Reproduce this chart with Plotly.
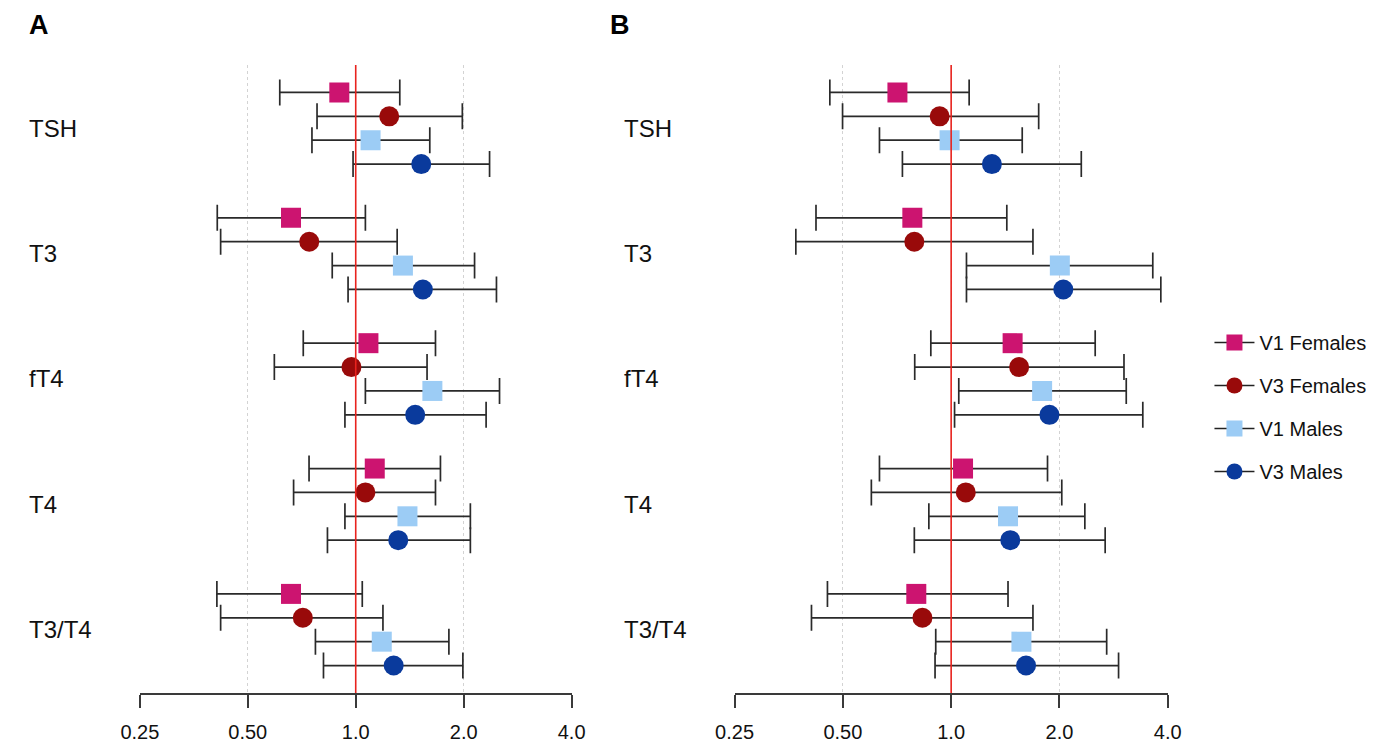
import math
import plotly.graph_objects as go

categories = ["TSH", "T3", "fT4", "T4", "T3/T4"]
series_names = ["V1 Females", "V3 Females", "V1 Males", "V3 Males"]
tick_vals = [0.25, 0.5, 1.0, 2.0, 4.0]
tick_text = ["0.25", "0.50", "1.0", "2.0", "4.0"]

# Panel A (estimate, lower, upper) per series, order of categories
a_v1f_est = [0.90, 0.66, 1.085, 1.13, 0.66]
a_v1f_lo = [0.614, 0.411, 0.714, 0.741, 0.410]
a_v1f_hi = [1.327, 1.064, 1.669, 1.723, 1.043]
a_v3f_est = [1.24, 0.742, 0.973, 1.064, 0.712]
a_v3f_lo = [0.780, 0.420, 0.593, 0.671, 0.420]
a_v3f_hi = [1.983, 1.305, 1.581, 1.669, 1.191]
a_v1m_est = [1.10, 1.354, 1.636, 1.394, 1.182]
a_v1m_lo = [0.755, 0.860, 1.064, 0.933, 0.772]
a_v1m_hi = [1.609, 2.145, 2.518, 2.088, 1.819]
a_v3m_est = [1.523, 1.539, 1.465, 1.314, 1.276]
a_v3m_lo = [0.983, 0.952, 0.933, 0.834, 0.813]
a_v3m_hi = [2.362, 2.469, 2.310, 2.088, 1.990]

# Panel B
b_v1f_est = [0.709, 0.78, 1.482, 1.079, 0.80]
b_v1f_lo = [0.460, 0.421, 0.878, 0.632, 0.453]
b_v1f_hi = [1.122, 1.428, 2.514, 1.853, 1.439]
b_v3f_est = [0.929, 0.79, 1.545, 1.098, 0.832]
b_v3f_lo = [0.499, 0.370, 0.792, 0.600, 0.409]
b_v3f_hi = [1.751, 1.688, 3.023, 2.030, 1.688]
b_v1m_est = [0.99, 2.005, 1.79, 1.439, 1.568]
b_v1m_lo = [0.632, 1.103, 1.05, 0.867, 0.906]
b_v1m_hi = [1.576, 3.635, 3.067, 2.353, 2.706]
b_v3m_est = [1.298, 2.05, 1.876, 1.46, 1.615]
b_v3m_lo = [0.732, 1.103, 1.022, 0.790, 0.902]
b_v3m_hi = [2.30, 3.827, 3.41, 2.68, 2.92]

colors = ["#CC1470", "#990A0A", "#9CCCF5", "#0A3A9C"]
symbols = ["square", "circle", "square", "circle"]
sizes = [20, 20, 20, 20]

panel_a = [(a_v1f_est, a_v1f_lo, a_v1f_hi), (a_v3f_est, a_v3f_lo, a_v3f_hi),
           (a_v1m_est, a_v1m_lo, a_v1m_hi), (a_v3m_est, a_v3m_lo, a_v3m_hi)]
panel_b = [(b_v1f_est, b_v1f_lo, b_v1f_hi), (b_v3f_est, b_v3f_lo, b_v3f_hi),
           (b_v1m_est, b_v1m_lo, b_v1m_hi), (b_v3m_est, b_v3m_lo, b_v3m_hi)]

GROUP_STEP = 5.25
# page body has an 8px margin; figure sized so the page fits the 1374x747 window
OFF = 8
W, H = 1374 - OFF, 747 - OFF


def hx(X):
    # horizontal placement calibrated against the rendered picture
    return (X - 22.2) / 0.973


def px(X):
    return (hx(X) - OFF) / W


def py(Y):
    return 1 - (Y - OFF) / H


fig = go.Figure()


def add_panel(panel, xa, ya):
    for s, (est, lo, hi) in enumerate(panel):
        ys = [g * GROUP_STEP + s for g in range(len(categories))]
        fig.add_trace(go.Scatter(
            x=est, y=ys, mode="markers", xaxis=xa, yaxis=ya,
            marker=dict(symbol=symbols[s], size=sizes[s], color=colors[s], line=dict(width=0)),
            error_x=dict(type="data", symmetric=False,
                         array=[h - e for h, e in zip(hi, est)],
                         arrayminus=[e - l for e, l in zip(est, lo)],
                         color="#2a2a2a", thickness=1.7, width=13),
            showlegend=False, hoverinfo="skip"))


add_panel(panel_a, "x", "y")
add_panel(panel_b, "x2", "y2")

# legend entries
for s in range(4):
    fig.add_trace(go.Scatter(
        x=[None], y=[None], mode="lines+markers", name=series_names[s],
        legendgroup=series_names[s],
        marker=dict(symbol=symbols[s], size=sizes[s], color=colors[s]),
        line=dict(color="#222222", width=1.7)))

x_a = (px(142.5), px(573))
x_b = (px(735.5), px(1167.4))
y_dom = (py(693), py(65))
yrange = [(len(categories) - 1) * GROUP_STEP + 3 + 1.15, -1.15]

xcommon = dict(type="log", range=[math.log10(0.25), math.log10(4.0)],
               tickvals=tick_vals, ticktext=tick_text,
               showline=True, linecolor="#3a3a3a", linewidth=2,
               ticks="outside", ticklen=13, tickwidth=2, tickcolor="#3a3a3a",
               showgrid=True, gridcolor="#d3d3d3", griddash="dot", gridwidth=1.2,
               zeroline=False, tickfont=dict(size=20, color="#111111"),
               ticklabelstandoff=7)
ycommon = dict(range=yrange, showgrid=False, showline=False, zeroline=False,
               showticklabels=False, ticks="", domain=list(y_dom))

fig.update_layout(
    width=W, height=H, margin=dict(l=0, r=0, t=0, b=0),
    paper_bgcolor="white", plot_bgcolor="white",
    font=dict(family="Liberation Sans, Arial, sans-serif", color="#111111"),
    xaxis=dict(domain=list(x_a), anchor="y", **xcommon),
    xaxis2=dict(domain=list(x_b), anchor="y2", **xcommon),
    yaxis=dict(anchor="x", **ycommon),
    yaxis2=dict(anchor="x2", **ycommon),
    legend=dict(x=px(1209), y=py(323), xanchor="left", yanchor="top",
                font=dict(size=20, color="#111111"), itemwidth=40,
                tracegroupgap=14, bgcolor="rgba(0,0,0,0)"),
)

# reference line at 1.0
for xr, yr in (("x", "y domain"), ("x2", "y2 domain")):
    fig.add_shape(type="line", xref=xr, yref=yr, x0=1, x1=1, y0=0, y1=1,
                  line=dict(color="#E8231E", width=1.6), layer="above")

# category labels
for g, cat in enumerate(categories):
    yc = g * GROUP_STEP + 1.5
    for xp, ya in ((px(30), "y"), (px(623), "y2")):
        fig.add_annotation(x=xp, y=yc, xref="paper", yref=ya, text=cat,
                           showarrow=False, xanchor="left", yanchor="middle",
                           font=dict(size=24, color="#111111"))

# panel letters
for X, t in ((0, "A"), (609, "B")):
    fig.add_annotation(x=max(px(X), 0), y=1, xref="paper", yref="paper",
                       text="<b>%s</b>" % t, showarrow=False,
                       xanchor="left", yanchor="top", yshift=0,
                       font=dict(size=27, color="#000000"))

fig.write_html("out.html")
